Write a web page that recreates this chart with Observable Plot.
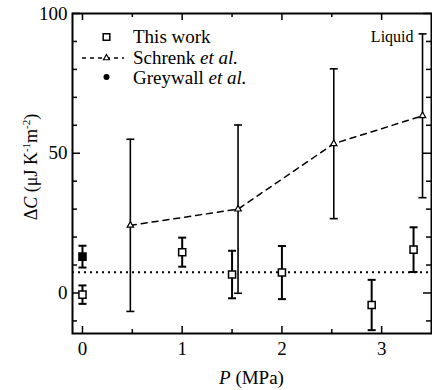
<!DOCTYPE html>
<html>
<head>
<meta charset="utf-8">
<script src="https://cdn.jsdelivr.net/npm/d3@7"></script>
<script src="https://cdn.jsdelivr.net/npm/@observablehq/plot@0.6"></script>
<style>
  html, body { margin: 0; padding: 0; background: #fff; }
  #chart svg { display: block; }
  #chart svg text, #chart svg tspan { font-family: "Liberation Serif", "Times New Roman", serif !important; }
</style>
</head>
<body>
<div id="chart"></div>
<script>
// Excess heat capacity ΔC versus pressure P

// This work (open squares)
const thisWorkP = [0, 1, 1.5, 2, 2.9, 3.32];
const thisWorkC = [-0.6, 14.6, 6.6, 7.3, -4.3, 15.5];
const thisWorkErr = [3.3, 5.2, 8.5, 9.5, 9.0, 8.0];

// Schrenk et al. (open triangles, dashed line)
const schrenkP = [0.48, 1.56, 2.52, 3.41];
const schrenkC = [24.2, 30.0, 53.4, 63.4];
const schrenkErr = [30.8, 30.1, 26.8, 29.3];

// Greywall et al. (filled square)
const greywallP = [0];
const greywallC = [13.0];
const greywallErr = [3.9];

// Mean level (dotted line)
const meanLevel = [7.4];

// Axis ticks
const xTickLabels = [0, 1, 2, 3];
const xMinorTicks = [0.5, 1.5, 2.5];
const yTickLabels = [0, 50, 100];
const yMinorTicks = [-10, 10, 20, 30, 40, 60, 70, 80, 90];

const liquidLabel = ["Liquid"];

const W = 432, H = 390;
const mTop = 13, mRight = 1, mBottom = 57, mLeft = 72;
const innerW = W - mLeft - mRight;
const innerH = H - mTop - mBottom;
const font = "Liberation Serif, Times New Roman, serif";

const rows = (P, C, E) => P.map((p, i) => ({p, c: C[i], e: E[i]}));
const thisWork = rows(thisWorkP, thisWorkC, thisWorkErr);
const schrenk = rows(schrenkP, schrenkC, schrenkErr);
const greywall = rows(greywallP, greywallC, greywallErr);

// horizontal cap for error bars
const cap = {draw(ctx) { ctx.moveTo(-4, 0); ctx.lineTo(4, 0); }};

function errorBars(data, sw) {
  return [
    Plot.ruleX(data, {x: "p", y1: d => d.c - d.e, y2: d => d.c + d.e, stroke: "black", strokeWidth: sw}),
    Plot.dot(data, {x: "p", y: d => d.c + d.e, symbol: cap, stroke: "black", fill: "none", strokeWidth: sw}),
    Plot.dot(data, {x: "p", y: d => d.c - d.e, symbol: cap, stroke: "black", fill: "none", strokeWidth: sw})
  ];
}

// inward ticks on all four sides
function ticksXY(vals, len, axis) {
  if (axis === "x") return [
    Plot.tickX(vals, {x: d => d, insetTop: innerH - len, stroke: "black", strokeWidth: 1.5}),
    Plot.tickX(vals, {x: d => d, insetBottom: innerH - len, stroke: "black", strokeWidth: 1.5})
  ];
  return [
    Plot.tickY(vals, {y: d => d, insetRight: innerW - len, stroke: "black", strokeWidth: 1.5}),
    Plot.tickY(vals, {y: d => d, insetLeft: innerW - len, stroke: "black", strokeWidth: 1.5})
  ];
}

const svg = Plot.plot({
  width: W,
  height: H,
  marginTop: mTop,
  marginRight: mRight,
  marginBottom: mBottom,
  marginLeft: mLeft,
  style: {fontFamily: font, fontSize: "19px", background: "white", color: "black"},
  x: {domain: [-0.1, 3.5]},
  y: {domain: [-14.5, 100]},
  marks: [
    Plot.axisX({ticks: xTickLabels, tickFormat: d3.format("d"), tickSize: 0, tickPadding: 8, label: null, fontSize: 19}),
    Plot.axisY({ticks: yTickLabels, tickFormat: d3.format("d"), tickSize: 0, tickPadding: 5, label: null, fontSize: 19}),
    ...ticksXY(xTickLabels, 7, "x"),
    ...ticksXY(xMinorTicks, 4, "x"),
    ...ticksXY(yTickLabels, 8, "y"),
    ...ticksXY(yMinorTicks, 5, "y"),
    Plot.ruleY(meanLevel, {y: d => d, stroke: "black", strokeWidth: 2, strokeDasharray: "2,4"}),
    Plot.line(schrenk, {x: "p", y: "c", stroke: "black", strokeWidth: 1.5, strokeDasharray: "6,5"}),
    ...errorBars(schrenk, 1.6),
    ...errorBars(thisWork, 2),
    ...errorBars(greywall, 2),
    Plot.dot(schrenk, {x: "p", y: "c", symbol: "triangle", r: 2.4, stroke: "black", fill: "white", strokeWidth: 1.2}),
    Plot.dot(thisWork, {x: "p", y: "c", symbol: "square", r: 4, stroke: "black", fill: "white", strokeWidth: 1.5}),
    Plot.dot(greywall, {x: "p", y: "c", symbol: "square", r: 4, stroke: "black", fill: "black", strokeWidth: 1.5}),
    Plot.text(liquidLabel, {
      x: () => schrenkP[schrenkP.length - 1],
      y: () => schrenkC[schrenkC.length - 1] + schrenkErr[schrenkErr.length - 1],
      text: d => d, textAnchor: "end", lineAnchor: "middle", dx: -9, dy: 3, fontSize: 16, fill: "black"
    }),
    Plot.frame({stroke: "black", strokeWidth: 2})
  ]
});

document.getElementById("chart").appendChild(svg);

// Axis titles and legend, with italic and superscript parts
const s = d3.select(svg);
const g = s.append("g").attr("font-family", font).attr("font-size", 19).attr("fill", "black");

const xt = g.append("text").attr("x", mLeft + innerW / 2).attr("y", 384).attr("text-anchor", "middle");
xt.append("tspan").attr("font-style", "italic").text("P");
xt.append("tspan").text(" (MPa)");

const yt = g.append("text")
  .attr("transform", `translate(37,${mTop + innerH / 2 - 6}) rotate(-90)`)
  .attr("text-anchor", "middle")
  .attr("font-size", 18);
yt.append("tspan").text("Δ");
yt.append("tspan").attr("font-style", "italic").text("C");
yt.append("tspan").text(" (μJ K");
yt.append("tspan").attr("font-size", 11).attr("dy", -7).text("-1");
yt.append("tspan").attr("dy", 7).text("m");
yt.append("tspan").attr("font-size", 11).attr("dy", -7).text("-2");
yt.append("tspan").attr("dy", 7).text(")");

const legendItems = [
  {label: "This work", etal: false, base: 43, sym: 37},
  {label: "Schrenk ", etal: true, base: 63.5, sym: 58},
  {label: "Greywall ", etal: true, base: 84, sym: 77}
];
const symX = 106.5, textX = 133;
legendItems.forEach((it, i) => {
  const t = g.append("text").attr("x", textX).attr("y", it.base).attr("text-anchor", "start");
  t.append("tspan").text(it.label);
  if (it.etal) t.append("tspan").attr("font-style", "italic").text("et al.");
  if (i === 0) {
    g.append("path").attr("d", d3.symbol(d3.symbolSquare, 44)())
      .attr("transform", `translate(${symX},${it.sym})`)
      .attr("fill", "white").attr("stroke", "black").attr("stroke-width", 1.5);
  } else if (i === 1) {
    g.append("line").attr("x1", 82).attr("x2", 124).attr("y1", it.sym).attr("y2", it.sym)
      .attr("stroke", "black").attr("stroke-width", 1.3).attr("stroke-dasharray", "4,4");
    g.append("path").attr("d", d3.symbol(d3.symbolTriangle, 16)())
      .attr("transform", `translate(${symX},${it.sym})`)
      .attr("fill", "white").attr("stroke", "black").attr("stroke-width", 1.2);
  } else {
    g.append("circle").attr("cx", symX).attr("cy", it.sym).attr("r", 3).attr("fill", "black");
  }
});
</script>
</body>
</html>
